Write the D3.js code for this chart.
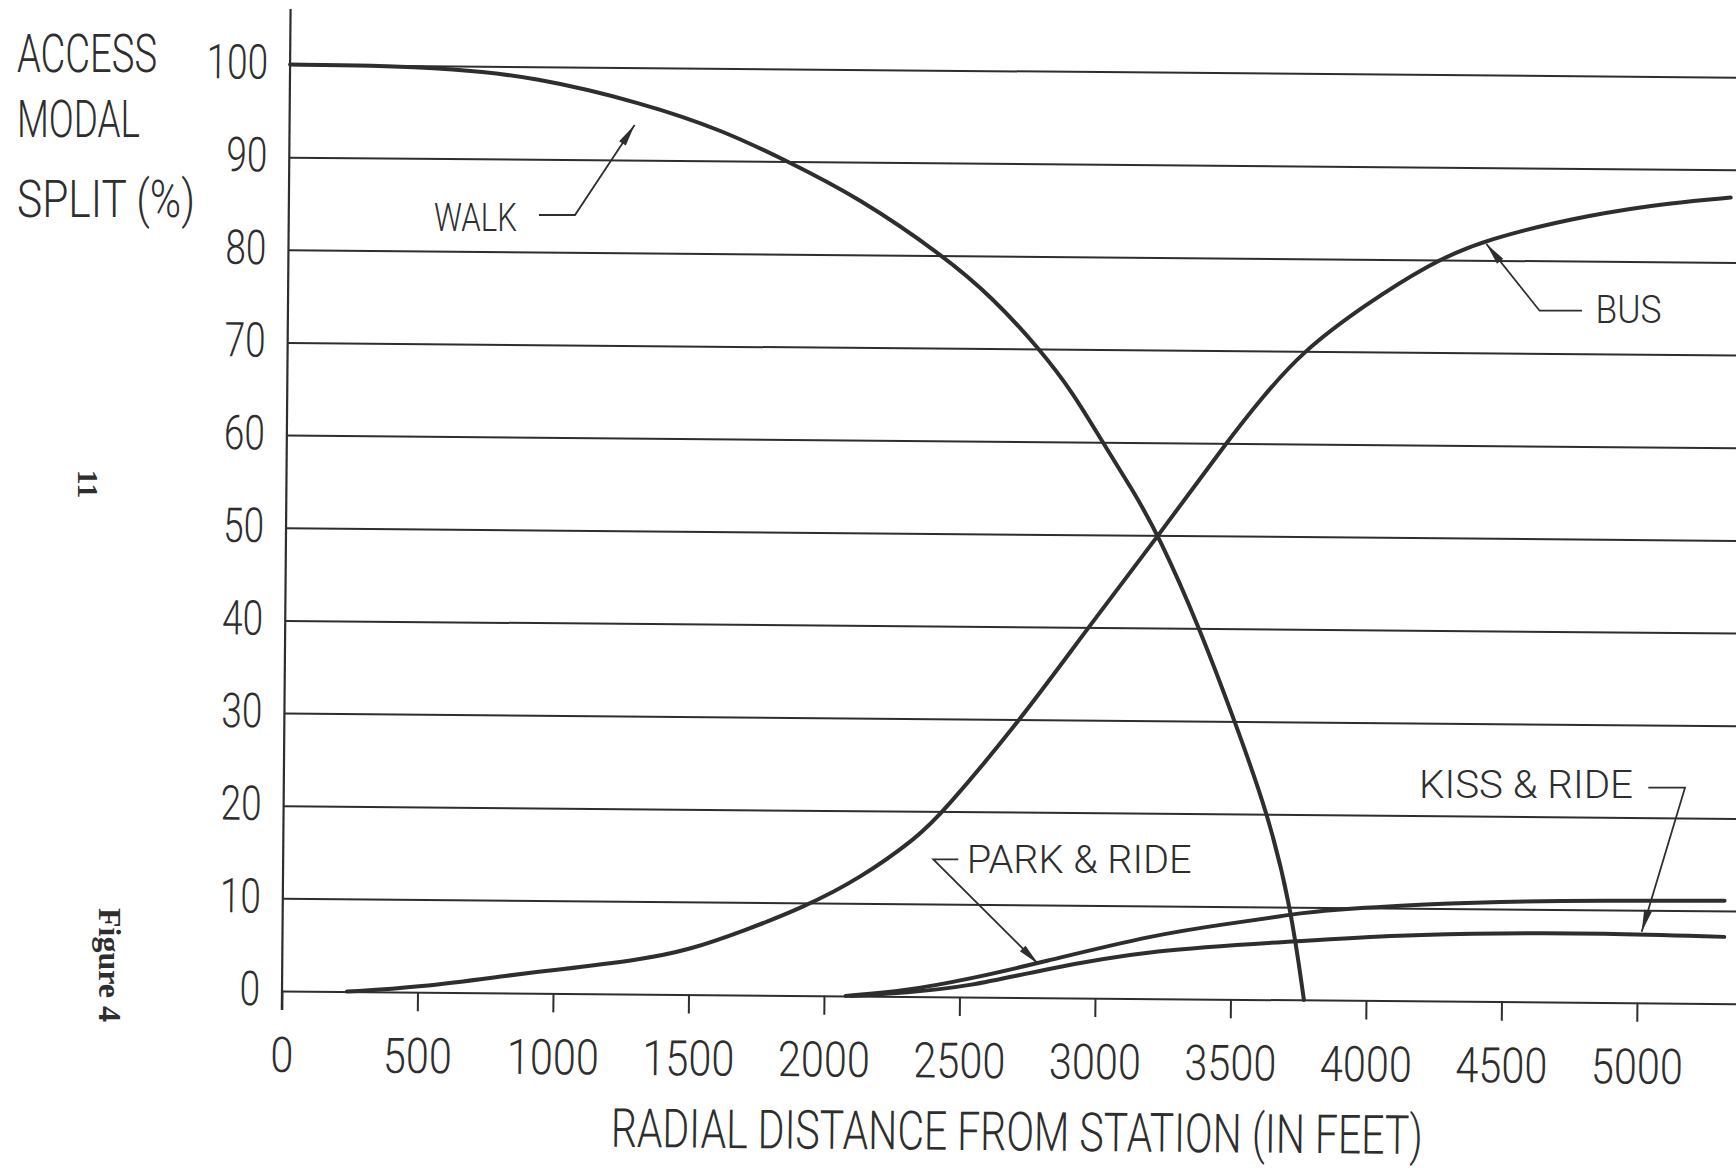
<!DOCTYPE html>
<html>
<head>
<meta charset="utf-8">
<script src="https://cdn.jsdelivr.net/npm/d3@7"></script>
<style>
  html, body { margin: 0; padding: 0; background: #fff; }
  svg { display: block; }
  text { font-family: Roboto, "Liberation Sans", sans-serif; font-weight: 300; fill: #2e2e2e; }
</style>
</head>
<body>
<script>
// radial distance ticks (feet) and modal split ticks (%)
const distTicks = [0, 500, 1000, 1500, 2000, 2500, 3000, 3500, 4000, 4500, 5000];
const pctTicks = [0, 10, 20, 30, 40, 50, 60, 70, 80, 90, 100];

// [feet, percent]
const walk = [[0, 100], [300, 100], [600, 99.7], [900, 98.9], [1300, 96.2], [1600, 93.3],
  [1840, 90], [2100, 86.2], [2416, 80], [2600, 75.5], [2775, 70], [2900, 65.3], [3010, 60],
  [3120, 55], [3220, 50], [3375, 40], [3507, 30], [3633, 20], [3720, 10], [3771, 0]];
const bus = [[240, 0], [500, 0.5], [860, 2.0], [1000, 2.5], [1320, 3.7], [1500, 4.8],
  [1700, 6.9], [1920, 9.5], [2130, 12.7], [2340, 17.2], [2430, 19.8], [2718, 30], [2963, 40],
  [3220, 50], [3465, 60], [3598, 65], [3745, 70], [3970, 75], [4212, 79.6], [4417, 82.3],
  [4810, 85.1], [5105, 86.4], [5320, 87]];
const parkRide = [[2080, 0], [2300, 0.6], [2540, 1.96], [2800, 3.8], [3215, 6.9], [3500, 8.2],
  [3707, 9.1], [3760, 9.45], [4125, 10.3], [4494, 10.8], [4863, 11.0], [5320, 11.1]];
const kissRide = [[2100, 0], [2300, 0.4], [2540, 1.16], [2800, 3.0], [3215, 5.3], [3730, 6.3],
  [4125, 7.1], [4494, 7.4], [4863, 7.5], [5320, 7.2]];

const W = 1736, H = 1168;
const ink = "#2e2e2e";
const tilt = 0.5; // the scanned sheet sits a little askew

const x = d3.scaleLinear().domain([0, 5000]).range([282, 1637]);
const y = d3.scaleLinear().domain([0, 100]).range([991, 64.5]);

const svg = d3.select("body").append("svg")
    .attr("width", W)
    .attr("height", H)
    .attr("viewBox", `0 0 ${W} ${H}`);

svg.append("rect").attr("width", W).attr("height", H).attr("fill", "#fff");

const g = svg.append("g")
    .attr("transform", `rotate(${tilt},${x(0)},${y(0)})`);

// horizontal rules + percent labels
const yAxis = g.append("g")
    .attr("transform", `translate(${x(0)},0)`)
    .call(d3.axisLeft(y)
      .tickValues(pctTicks)
      .tickSizeInner(-(W + 60 - x(0)))
      .tickSizeOuter(0)
      .tickPadding(22));
yAxis.select(".domain").remove();
yAxis.selectAll(".tick line").attr("stroke", ink).attr("stroke-width", 2);
yAxis.selectAll(".tick text")
    .attr("font-size", 48)
    .attr("dy", "0.29em")
    .attr("textLength", d => String(d).length * 20.5)
    .attr("lengthAdjust", "spacingAndGlyphs");

// distance ticks + labels
const xAxis = g.append("g")
    .attr("transform", `translate(0,${y(0)})`)
    .call(d3.axisBottom(x)
      .tickValues(distTicks)
      .tickFormat(d3.format("d"))
      .tickSize(19)
      .tickPadding(27));
xAxis.select(".domain").remove();
xAxis.selectAll(".tick line").attr("stroke", ink).attr("stroke-width", 2);
xAxis.selectAll(".tick text")
    .attr("font-size", 49)
    .attr("textLength", d => String(d).length * 23)
    .attr("lengthAdjust", "spacingAndGlyphs");

// vertical axis line
g.append("line")
    .attr("x1", x(0)).attr("x2", x(0))
    .attr("y1", y(106)).attr("y2", y(0) + 19)
    .attr("stroke", ink).attr("stroke-width", 2.2);

// curves
const line = d3.line()
    .x(d => x(d[0]))
    .y(d => y(d[1]))
    .curve(d3.curveBasis);

g.append("g")
    .attr("fill", "none")
    .attr("stroke", ink)
    .attr("stroke-width", 4)
    .attr("stroke-linejoin", "round")
    .attr("stroke-linecap", "round")
  .selectAll("path")
  .data([walk, bus, parkRide, kissRide])
  .join("path")
    .attr("d", line);

// axis title sits on the tilted sheet too
g.append("text")
    .attr("x", 612).attr("y", 1144)
    .attr("font-size", 54)
    .attr("textLength", 812)
    .attr("lengthAdjust", "spacingAndGlyphs")
    .text("RADIAL DISTANCE FROM STATION (IN FEET)");

// labels and leaders
function label(str, lx, ly, size, len) {
  svg.append("text")
      .attr("x", lx).attr("y", ly)
      .attr("font-size", size)
      .attr("textLength", len)
      .attr("lengthAdjust", "spacingAndGlyphs")
      .text(str);
}

function leader(pts) {
  svg.append("path")
      .attr("d", d3.line()(pts))
      .attr("fill", "none")
      .attr("stroke", ink)
      .attr("stroke-width", 1.8);
  const [p, q] = pts.slice(-2);
  const a = Math.atan2(q[1] - p[1], q[0] - p[0]);
  const len = 22, hw = 4;
  const bx = q[0] - len * Math.cos(a), by = q[1] - len * Math.sin(a);
  const nx = -Math.sin(a) * hw, ny = Math.cos(a) * hw;
  svg.append("path")
      .attr("d", `M${q[0]},${q[1]}L${bx + nx},${by + ny}L${bx - nx},${by - ny}Z`)
      .attr("fill", ink);
}

label("ACCESS", 17, 72, 54, 140);
label("MODAL", 17, 137, 52, 123);
label("SPLIT (%)", 17, 217, 52, 178);

label("WALK", 434, 231, 39, 83);
leader([[539, 215], [575, 215], [634.6, 125]]);

label("BUS", 1595.6, 322.7, 39, 66);
leader([[1582, 310.7], [1539.6, 310.7], [1486.4, 244]]);

label("PARK & RIDE", 966.7, 873.3, 38, 225);
leader([[958.3, 859.3], [933.3, 859.3], [1038.3, 964]]);

label("KISS & RIDE", 1419, 798.3, 38, 214);
leader([[1648.3, 787.7], [1685, 787.7], [1641.7, 931.7]]);

// page furniture printed sideways in the margin
svg.append("text")
    .attr("transform", "translate(78,484) rotate(90)")
    .attr("text-anchor", "middle")
    .attr("font-size", 30)
    .style("font-family", "'Liberation Serif', serif")
    .style("font-weight", 700)
    .text("11");

svg.append("text")
    .attr("transform", "translate(99,965) rotate(90)")
    .attr("text-anchor", "middle")
    .attr("font-size", 32)
    .style("font-family", "'Liberation Serif', serif")
    .style("font-weight", 700)
    .text("Figure 4");
</script>
</body>
</html>
